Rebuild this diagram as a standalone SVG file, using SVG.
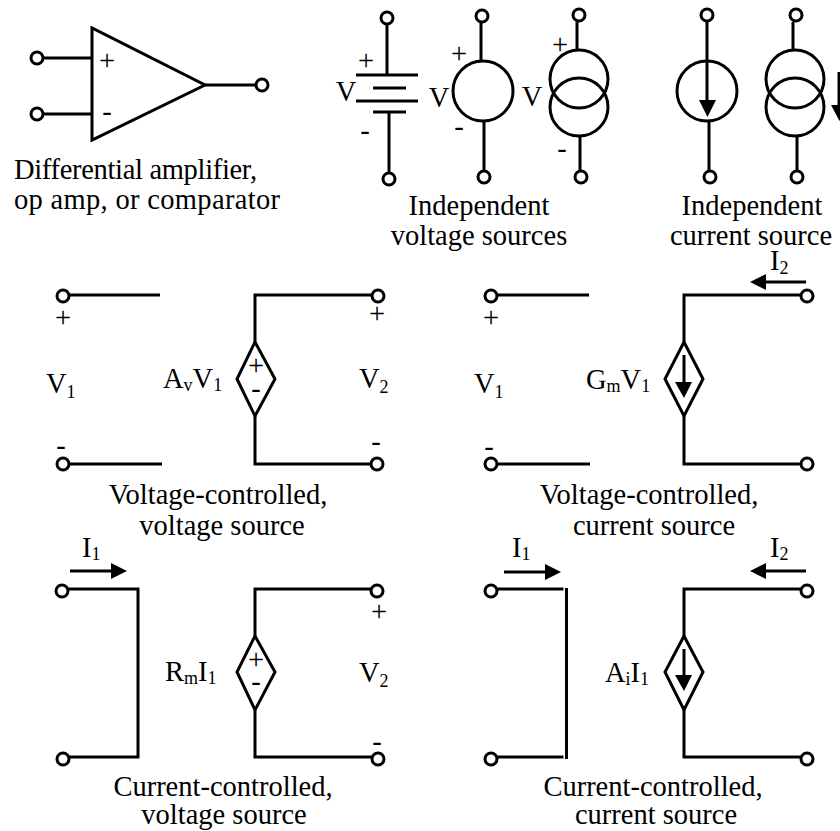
<svg xmlns="http://www.w3.org/2000/svg" width="840" height="831" viewBox="0 0 840 831">
<style>
text{font-family:"Liberation Serif","Times New Roman",serif;font-size:28.5px;fill:#000}
.m{text-anchor:middle}
.s{font-size:18px}
.w{fill:none;stroke:#000;stroke-width:3}
.t{fill:#fff;stroke:#000;stroke-width:3}
.a{fill:#000;stroke:none}
</style>
<rect width="840" height="831" fill="#fff"/>
<g id="connectors" class="w">
<path d="M43 58H92M43 114H92M205 85H256"/>
<path d="M387 24V75M356 75H418M373 88H406M356 101H418M373 112H406M389 112V173"/>
<path d="M481 22V61M484 121V172M577 22V50M580 136V172"/>
<path d="M707 22V104M709 121V172M793 22V50M797 136V172"/>
<path d="M839 72V108"/>
<path d="M69 295H160M69 464H162M378 295H255V342M255 416V465.500M255 464H372"/>
<path d="M497 295H589M497 464H590M801 295H684V342M684 416V465.500M684 464H801"/>
<path d="M68 589H138V757H68M378 589H255V636M255 710V757H372"/>
<path d="M497 589H563.500M497 757H563.500M566.500 588V759M801 589H684V636M684 710V757H801"/>
<path d="M684 355V385M684 649V678M806 282H762M806 571H762M70 571H114M504 572H548"/>
</g>
<g id="opamp">
<path class="w" d="M92 28V140L205 85Z"/>
<circle class="t" cx="37" cy="58" r="6"/><circle class="t" cx="37" cy="114" r="6"/><circle class="t" cx="262" cy="85" r="6"/>
<text x="107" y="70" class="m">+</text><text x="107" y="121" class="m">-</text>
<text x="14" y="179" textLength="243">Differential amplifier,</text><text x="14" y="209" textLength="266">op amp, or comparator</text>
</g>
<g id="battery">
<circle class="t" cx="387" cy="18" r="6"/><circle class="t" cx="389" cy="179" r="6"/>
<text x="366" y="70" class="m">+</text><text x="365" y="140" class="m">-</text><text x="346" y="101" class="m">V</text>
</g>
<g id="voltage-source">
<circle class="t" cx="482" cy="16" r="6"/><circle class="t" cx="484" cy="177" r="6"/>
<circle class="w" cx="483" cy="91" r="30"/>
<text x="459" y="63" class="m">+</text><text x="459" y="136" class="m">-</text><text x="439" y="107" class="m">V</text>
</g>
<g id="voltage-source-rings">
<circle class="t" cx="579" cy="15" r="6"/><circle class="t" cx="581" cy="177" r="6"/>
<circle class="w" cx="579" cy="79" r="29"/><circle class="w" cx="579" cy="107" r="29"/>
<text x="560" y="54" class="m">+</text><text x="562" y="158" class="m">-</text><text x="532" y="106" class="m">V</text>
</g>
<g id="current-source">
<circle class="t" cx="707" cy="15" r="6"/><circle class="t" cx="710" cy="177" r="6"/>
<circle class="w" cx="707" cy="91" r="30"/><path class="a" d="M699 100H716L707.500 117Z"/>
</g>
<g id="current-source-rings">
<circle class="t" cx="796" cy="15" r="6"/><circle class="t" cx="797" cy="177" r="6"/>
<circle class="w" cx="795" cy="79" r="29"/><circle class="w" cx="795" cy="107" r="29"/>
<path class="a" d="M831 105H848L839.500 121Z"/>
</g>
<g id="labels-top">
<text x="479" y="214.500" class="m">Independent</text><text x="479" y="244.500" class="m">voltage sources</text>
<text x="752" y="214.500" class="m">Independent</text><text x="751" y="244.500" class="m">current source</text>
<text x="770" y="270">I<tspan class="s" dy="4">2</tspan></text>
</g>
<g id="vcvs">
<circle class="t" cx="63" cy="296" r="6"/><circle class="t" cx="63" cy="464" r="6"/><circle class="t" cx="378" cy="296" r="6"/><circle class="t" cx="377" cy="464" r="6"/>
<path class="t" d="M255 342L275 379L255 416L237 379Z"/>
<text x="63" y="327" class="m">+</text><text x="61" y="455" class="m">-</text><text x="377" y="323" class="m">+</text><text x="376" y="451" class="m">-</text>
<text x="256" y="375" class="m">+</text><text x="256" y="398" class="m">-</text>
<text x="46" y="393">V<tspan class="s" dy="5">1</tspan></text><text x="163" y="388">A<tspan class="s" dy="3">v</tspan><tspan dy="-3">V</tspan><tspan class="s" dy="3">1</tspan></text><text x="359" y="388">V<tspan class="s" dy="5">2</tspan></text>
<text x="218" y="504" class="m">Voltage-controlled,</text><text x="222" y="535" class="m">voltage source</text>
</g>
<g id="vccs">
<circle class="t" cx="491" cy="296" r="6"/><circle class="t" cx="491" cy="464" r="6"/><circle class="t" cx="807" cy="296" r="6"/><circle class="t" cx="807" cy="464" r="6"/>
<path class="w" d="M684 342L703 379L684 416L665 379Z"/>
<path class="a" d="M675 382H692L684 398Z"/><path class="a" d="M750 282L766 274V290Z"/>
<text x="491" y="327" class="m">+</text><text x="489" y="456" class="m">-</text>
<text x="474" y="393">V<tspan class="s" dy="5">1</tspan></text><text x="586" y="389">G<tspan class="s" dy="3">m</tspan><tspan dy="-3">V</tspan><tspan class="s" dy="3">1</tspan></text>
<text x="649" y="504" class="m">Voltage-controlled,</text><text x="654" y="535" class="m">current source</text>
</g>
<g id="ccvs">
<circle class="t" cx="62" cy="591" r="6"/><circle class="t" cx="63" cy="759" r="6"/><circle class="t" cx="377" cy="591" r="6"/><circle class="t" cx="378" cy="759" r="6"/>
<path class="t" d="M255 636L275 672L255 710L237 672Z"/>
<path class="a" d="M127 571L111 563V579Z"/>
<text x="82" y="557">I<tspan class="s" dy="3">1</tspan></text>
<text x="379" y="621" class="m">+</text><text x="377" y="751" class="m">-</text>
<text x="256" y="669" class="m">+</text><text x="256" y="691" class="m">-</text>
<text x="165" y="681">R<tspan class="s" dy="3">m</tspan><tspan dy="-3">I</tspan><tspan class="s" dy="3">1</tspan></text><text x="359" y="682">V<tspan class="s" dy="5">2</tspan></text>
<text x="223" y="796" class="m">Current-controlled,</text><text x="224" y="824" class="m">voltage source</text>
</g>
<g id="cccs">
<circle class="t" cx="491" cy="591" r="6"/><circle class="t" cx="491" cy="759" r="6"/><circle class="t" cx="807" cy="591" r="6"/><circle class="t" cx="807" cy="759" r="6"/>
<path class="w" d="M684 636L703 672L684 710L665 672Z"/>
<path class="a" d="M675 675H692L684 691Z"/><path class="a" d="M561 572L545 564V580Z"/><path class="a" d="M750 571L766 563V579Z"/>
<text x="512" y="557">I<tspan class="s" dy="3">1</tspan></text><text x="770" y="557">I<tspan class="s" dy="3">2</tspan></text>
<text x="605" y="682">A<tspan class="s" dy="3">i</tspan><tspan dy="-3">I</tspan><tspan class="s" dy="3">1</tspan></text>
<text x="653" y="796" class="m">Current-controlled,</text><text x="656" y="824" class="m">current source</text>
</g>
</svg>
